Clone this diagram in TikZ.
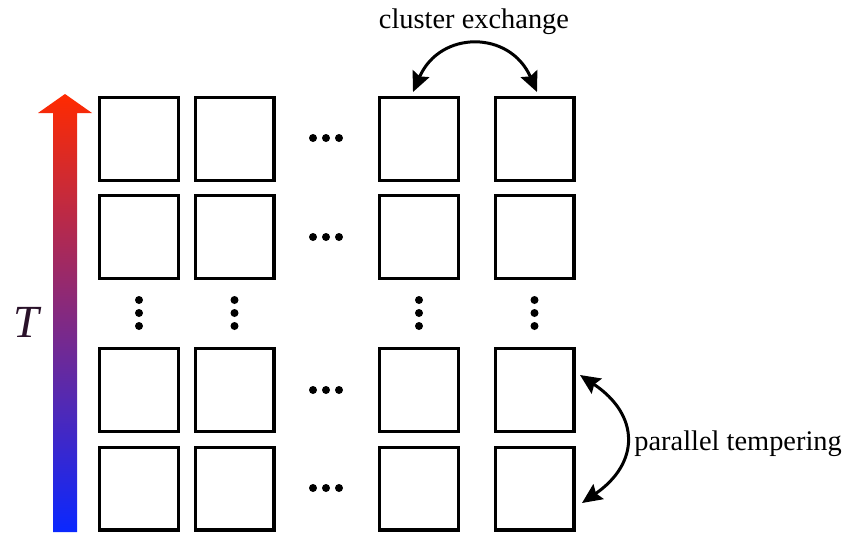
\documentclass[tikz,border=0pt]{standalone}
\usepackage{fontspec}
\setmainfont{Liberation Serif}
\usetikzlibrary{arrows.meta}

\definecolor{hot}{RGB}{255,42,0}
\definecolor{cold}{RGB}{10,40,255}
\definecolor{tdark}{RGB}{42,18,42}

\tikzset{
  cell/.style={draw=black, line width=1.7pt, minimum width=39.3pt, minimum height=41.3pt, inner sep=0pt},
  swap/.style={line width=1.5pt, {Stealth[length=10pt,width=9pt,inset=1.5pt]}-{Stealth[length=10pt,width=9pt,inset=1.5pt]}},
  lbl/.style={inner sep=0pt, font=\fontsize{14.2}{17}\selectfont},
}

\begin{document}
\begin{tikzpicture}[x=0.5pt,y=0.5pt,yscale=-1,xscale=1]
\useasboundingbox (0,0) rectangle (848,532);

%Shape: temperature arrow
\shade [top color=hot, bottom color=cold] (53,532) -- (53,113) -- (38,113) -- (65,94) -- (92,113) -- (77,113) -- (77,532) -- cycle ;

%Shape: grid of replicas
\foreach \y [count=\r] in {139,237,390,488.5}
  \foreach \x [count=\c] in {139,234.5,419,534.5}
    \node [cell] (c\r\c) at (\x,\y) {};

%Dots: skipped columns
\foreach \y in {138,237,390,488}
  \foreach \x in {313,326,339}
    \fill (\x,\y) circle (2pt) ;
%Dots: skipped rows
\foreach \x in {139,234.5,419,534.5}
  \foreach \y in {300,313,326}
    \fill (\x,\y) circle (2pt) ;

% Text Node
\node [text=tdark, inner sep=0pt, font=\fontsize{23}{23}\selectfont\itshape] (tlabel) at (26,322) {T};
% Text Node
\node [lbl, anchor=base] (cxlabel) at (474,28) {cluster exchange};
% Text Node
\node [lbl, anchor=base west] (ptlabel) at (634,450) {parallel tempering};

%Curve Lines: cluster exchange
\coordinate (cxa) at (413,92);
\coordinate (cxb) at (537,92);
\draw [swap] (cxa) .. controls (440,30) and (510,30) .. (cxb) ;
%Curve Lines: parallel tempering
\coordinate (pta) at (580,375);
\coordinate (ptb) at (582,503);
\draw [swap] (pta) .. controls (640,415) and (640,463) .. (ptb) ;

\end{tikzpicture}
\end{document}
